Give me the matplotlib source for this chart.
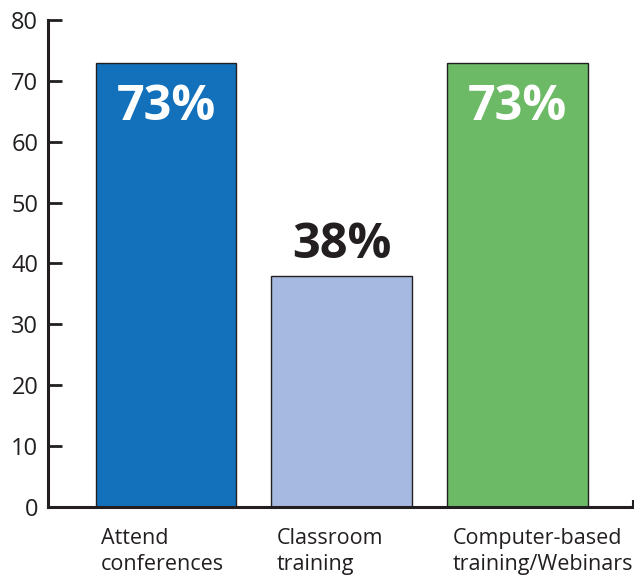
import matplotlib
matplotlib.use("Agg")
import matplotlib.pyplot as plt

categories = ["Attend\nconferences", "Classroom\ntraining", "Computer-based\ntraining/Webinars"]
values = [73, 38, 73]
bar_colors = ["#1271BA", "#A6B9E0", "#6CBA66"]
label_colors = ["white", "#231F20", "white"]
yticks = [0, 10, 20, 30, 40, 50, 60, 70, 80]

plt.rcParams["font.family"] = ["Open Sans", "DejaVu Sans"]
ink = "#231F20"

fig = plt.figure(figsize=(6.34, 5.79), dpi=100)
ax = fig.add_axes([0.0757, 0.1244, 0.9223, 0.8411])

x = list(range(len(values)))
bars = ax.bar(x, values, width=0.8, color=bar_colors, edgecolor=ink, linewidth=1.0)

ax.set_xlim(-0.671, 2.657)
ax.set_ylim(0, 80)
ax.set_yticks(yticks)
ax.tick_params(axis="y", direction="in", length=10, width=2, colors=ink,
               labelsize=17, pad=7, labelcolor=ink)
ax.set_xticks([])
ax.set_xticks([2.657], minor=True)
ax.tick_params(axis="x", which="minor", direction="in", length=5, width=1.5, colors=ink)

for side in ["top", "right"]:
    ax.spines[side].set_visible(False)
ax.spines["left"].set_linewidth(2.2)
ax.spines["bottom"].set_linewidth(2.2)
ax.spines["left"].set_color(ink)
ax.spines["bottom"].set_color(ink)

# value labels: inside the tall bars, above the short one
for xi, v, c in zip(x, values, label_colors):
    if v > 60:
        ax.annotate(f"{v}%", (xi, v), xytext=(0, -41), textcoords="offset points",
                    ha="center", va="baseline", fontsize=35, fontweight="bold", color=c)
    else:
        ax.annotate(f"{v}%", (xi, v), xytext=(0, 13), textcoords="offset points",
                    ha="center", va="baseline", fontsize=35, fontweight="bold", color=c)

# category names under each bar, left aligned to the bar
for xi, name in zip(x, categories):
    ax.annotate(name, (xi - 0.4, 0), xytext=(4, -15), textcoords="offset points",
                ha="left", va="top", fontsize=15.5, color=ink, linespacing=1.35)

fig.savefig("out.png", dpi=100)
